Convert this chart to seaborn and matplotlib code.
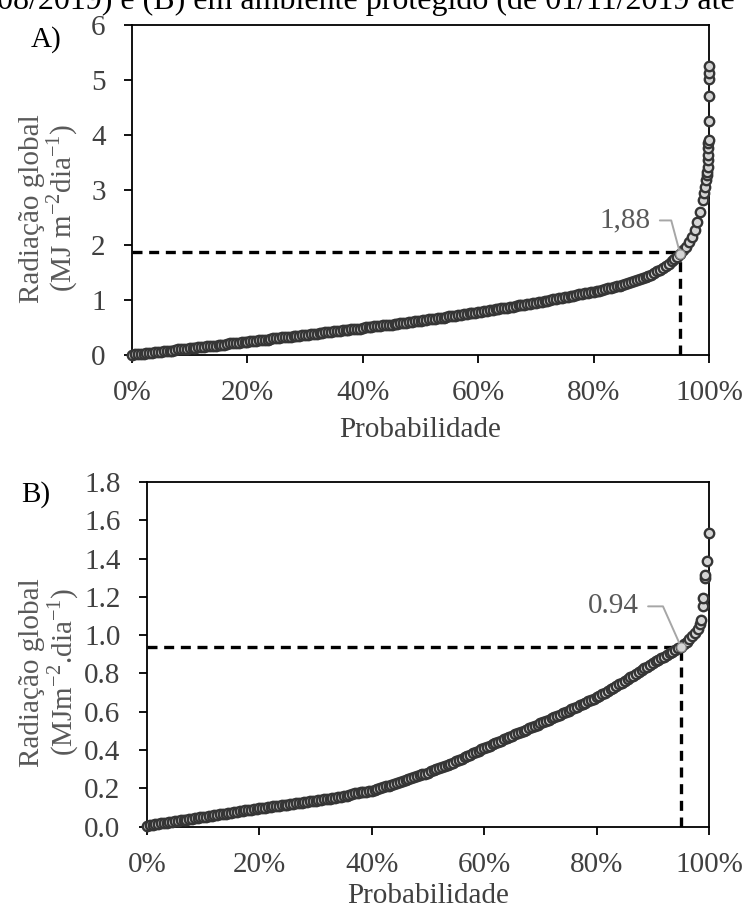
import numpy as np
import pandas as pd
import matplotlib
matplotlib.use('Agg')
import matplotlib.pyplot as plt
import seaborn as sns

# --- data ---
# A) values read every 0.5% of probability (0% .. 99%)
STEP_A = 0.5
rad_a = [0.00, 0.01, 0.01, 0.02, 0.02, 0.03, 0.04, 0.04, 0.05, 0.05,
         0.06, 0.07, 0.07, 0.08, 0.08, 0.09, 0.10, 0.10, 0.11, 0.11,
         0.12, 0.13, 0.13, 0.14, 0.14, 0.15, 0.16, 0.16, 0.17, 0.17,
         0.18, 0.19, 0.19, 0.20, 0.21, 0.21, 0.22, 0.22, 0.23, 0.24,
         0.24, 0.25, 0.26, 0.26, 0.27, 0.27, 0.28, 0.28, 0.29, 0.30,
         0.30, 0.31, 0.32, 0.32, 0.33, 0.33, 0.34, 0.35, 0.35, 0.36,
         0.36, 0.37, 0.38, 0.38, 0.39, 0.40, 0.40, 0.41, 0.42, 0.42,
         0.43, 0.44, 0.44, 0.45, 0.45, 0.46, 0.47, 0.47, 0.48, 0.48,
         0.49, 0.50, 0.50, 0.51, 0.52, 0.52, 0.53, 0.54, 0.54, 0.55,
         0.55, 0.56, 0.57, 0.58, 0.58, 0.59, 0.60, 0.60, 0.61, 0.62,
         0.62, 0.63, 0.64, 0.65, 0.65, 0.66, 0.67, 0.68, 0.68, 0.69,
         0.70, 0.71, 0.71, 0.72, 0.73, 0.74, 0.75, 0.76, 0.76, 0.77,
         0.78, 0.79, 0.80, 0.80, 0.81, 0.82, 0.83, 0.84, 0.85, 0.85,
         0.86, 0.87, 0.88, 0.89, 0.90, 0.91, 0.91, 0.92, 0.93, 0.94,
         0.95, 0.96, 0.97, 0.98, 0.99, 1.00, 1.01, 1.02, 1.03, 1.04,
         1.05, 1.06, 1.07, 1.08, 1.09, 1.10, 1.11, 1.12, 1.13, 1.14,
         1.15, 1.16, 1.17, 1.19, 1.20, 1.21, 1.22, 1.24, 1.25, 1.26,
         1.28, 1.29, 1.31, 1.33, 1.34, 1.36, 1.38, 1.40, 1.42, 1.44,
         1.46, 1.49, 1.52, 1.55, 1.58, 1.62, 1.66, 1.70, 1.74, 1.79,
         1.84, 1.90, 1.97, 2.05, 2.14, 2.27, 2.42, 2.60, 2.82]
# A) last points, stacked against 100%
tail_prob_a = [99.2, 99.35, 99.5, 99.6, 99.7, 99.75, 99.8, 99.85,
               99.88, 99.9, 99.92, 99.94, 99.96, 99.97, 99.98, 100.0]
tail_rad_a = [2.94, 3.05, 3.18, 3.27, 3.33, 3.42, 3.55, 3.64,
              3.76, 3.85, 3.91, 4.25, 4.71, 5.02, 5.13, 5.25]

# B) values read every 0.5% of probability (0% .. 98%)
STEP_B = 0.5
rad_b = [0.005, 0.007, 0.009, 0.012, 0.014, 0.016, 0.018, 0.020, 0.023, 0.025,
         0.027, 0.030, 0.032, 0.034, 0.036, 0.039, 0.041, 0.043, 0.045, 0.048,
         0.050, 0.052, 0.055, 0.057, 0.059, 0.062, 0.064, 0.066, 0.068, 0.071,
         0.073, 0.075, 0.077, 0.080, 0.082, 0.084, 0.086, 0.089, 0.091, 0.093,
         0.095, 0.097, 0.099, 0.101, 0.103, 0.105, 0.107, 0.109, 0.111, 0.113,
         0.115, 0.117, 0.119, 0.121, 0.123, 0.125, 0.127, 0.129, 0.131, 0.133,
         0.135, 0.137, 0.139, 0.142, 0.144, 0.146, 0.148, 0.151, 0.153, 0.156,
         0.158, 0.160, 0.163, 0.168, 0.175, 0.176, 0.178, 0.181, 0.183, 0.186,
         0.188, 0.192, 0.197, 0.201, 0.205, 0.210, 0.214, 0.219, 0.223, 0.228,
         0.232, 0.237, 0.242, 0.247, 0.252, 0.257, 0.262, 0.267, 0.272, 0.277,
         0.282, 0.288, 0.294, 0.299, 0.305, 0.311, 0.317, 0.323, 0.328, 0.334,
         0.340, 0.347, 0.354, 0.361, 0.368, 0.375, 0.382, 0.389, 0.396, 0.403,
         0.410, 0.416, 0.423, 0.429, 0.436, 0.442, 0.449, 0.455, 0.462, 0.468,
         0.475, 0.481, 0.488, 0.494, 0.501, 0.507, 0.514, 0.520, 0.527, 0.533,
         0.540, 0.546, 0.553, 0.559, 0.566, 0.572, 0.579, 0.585, 0.592, 0.598,
         0.605, 0.612, 0.619, 0.626, 0.633, 0.640, 0.647, 0.654, 0.661, 0.668,
         0.675, 0.683, 0.692, 0.700, 0.709, 0.717, 0.726, 0.734, 0.743, 0.751,
         0.760, 0.769, 0.779, 0.788, 0.798, 0.807, 0.817, 0.826, 0.836, 0.845,
         0.855, 0.863, 0.872, 0.880, 0.888, 0.897, 0.905, 0.914, 0.923, 0.931,
         0.940, 0.952, 0.965, 0.980, 0.995, 1.010, 1.030]
tail_prob_b = [98.4, 98.6, 98.9, 98.95, 99.2, 99.35, 99.65, 99.95]
tail_rad_b = [1.06, 1.08, 1.15, 1.195, 1.30, 1.315, 1.385, 1.533]

# 95% quantiles marked on the chart
P95 = 95
Q95_A = 1.88
Q95_B = 0.94
LABEL_A = '1,88'
LABEL_B = '0.94'

CAPTION = '08/2019) e (B) em ambiente protegido (de 01/11/2019 até'

sns.set_style('ticks')
plt.rcParams['font.family'] = ['Liberation Serif', 'DejaVu Serif']
plt.rcParams['mathtext.fontset'] = 'custom'
plt.rcParams['mathtext.rm'] = 'Liberation Serif'
plt.rcParams['font.size'] = 21

TICK_C = '#404040'
LAB_C = '#595959'
FILL = '#d4d4d4'
EDGE = '#353535'


def build(rad, step, tail_p, tail_r):
    d = pd.DataFrame({'prob': np.arange(len(rad)) * step, 'rad': rad})
    t = pd.DataFrame({'prob': tail_p, 'rad': tail_r})
    return pd.concat([d, t], ignore_index=True)


df_a = build(rad_a, STEP_A, tail_prob_a, tail_rad_a)
df_b = build(rad_b, STEP_B, tail_prob_b, tail_rad_b)

fig = plt.figure(figsize=(7.45, 9.09), dpi=100)
ax_a = fig.add_axes([0.1772, 0.6095, 0.7745, 0.363])
ax_b = fig.add_axes([0.1973, 0.0907, 0.7544, 0.379])


def panel(ax, df, q, label, text_off, angle, ylim, yticks, yfmt, ylab, lab_xy, tag, tag_xy, xpad):
    sns.scatterplot(data=df, x='prob', y='rad', ax=ax, s=46, color=FILL,
                    edgecolor=EDGE, linewidth=1.7, legend=False, zorder=3, clip_on=False)
    # 95% guide lines
    ax.plot([0, P95], [q, q], color='black', lw=2.4, ls=(0, (3, 2)), zorder=2)
    ax.plot([P95, P95], [0, q], color='black', lw=2.4, ls=(0, (3, 2)), zorder=2)
    # highlighted point and label
    hp = df.iloc[(df['prob'] - P95).abs().argsort()[:1]]
    ax.scatter(hp['prob'], hp['rad'], s=44, color=FILL, edgecolor='#8c8c8c',
               linewidth=0.8, zorder=5)
    ax.annotate(label, xy=(hp['prob'].iloc[0], hp['rad'].iloc[0]),
                xytext=text_off, textcoords='offset points', ha='right', va='center',
                color=LAB_C, fontsize=21,
                arrowprops=dict(arrowstyle='-', color='#a6a6a6', lw=1.4, shrinkA=4, shrinkB=3,
                                connectionstyle=f'angle,angleA=0,angleB={angle},rad=0'))
    ax.set_xlim(0, 100)
    ax.set_ylim(*ylim)
    ax.set_xticks([0, 20, 40, 60, 80, 100])
    ax.set_xticklabels([f'{v}%' for v in [0, 20, 40, 60, 80, 100]])
    ax.set_yticks(yticks)
    ax.set_yticklabels([yfmt.format(v) for v in yticks])
    ax.tick_params(direction='out', length=6, width=1.3, colors='black',
                   labelcolor=TICK_C, labelsize=21)
    ax.tick_params(axis='x', pad=12)
    ax.tick_params(axis='y', pad=13)
    for sp in ax.spines.values():
        sp.set_visible(True)
        sp.set_linewidth(1.3)
        sp.set_color('black')
    ax.set_xlabel('Probabilidade', color=TICK_C, fontsize=21, labelpad=xpad)
    ax.set_ylabel(ylab, color=LAB_C, fontsize=21, linespacing=1.0)
    ax.yaxis.set_label_coords(*lab_xy)
    fig.text(tag_xy[0], tag_xy[1], tag, color='black', fontsize=21, ha='center', va='center')


panel(ax_a, df_a, Q95_A, LABEL_A, (-21, 24), 105, (0, 6), [0, 1, 2, 3, 4, 5, 6], '{:.0f}',
      'Radiação global\n(MJ m$^{\\mathregular{-2}}$dia$^{\\mathregular{-1}}$)',
      (-0.09, 0.445), 'A)', (46 / 745, 1 - 40 / 909), 8)
panel(ax_b, df_b, Q95_B, LABEL_B, (-30, 29), 114, (0, 1.8),
      [0.0, 0.2, 0.4, 0.6, 0.8, 1.0, 1.2, 1.4, 1.6, 1.8], '{:.1f}',
      'Radiação global\n(MJm$^{\\mathregular{-2}}$.dia$^{\\mathregular{-1}}$)',
      (-0.118, 0.448), 'B)', (36 / 745, 1 - 495 / 909), 4)

# caption line cut at the top of the picture
fig.text(-0.004, 1 - 9 / 909, CAPTION, color='black', fontsize=23, ha='left', va='baseline')

fig.savefig('out.png', dpi=100)
